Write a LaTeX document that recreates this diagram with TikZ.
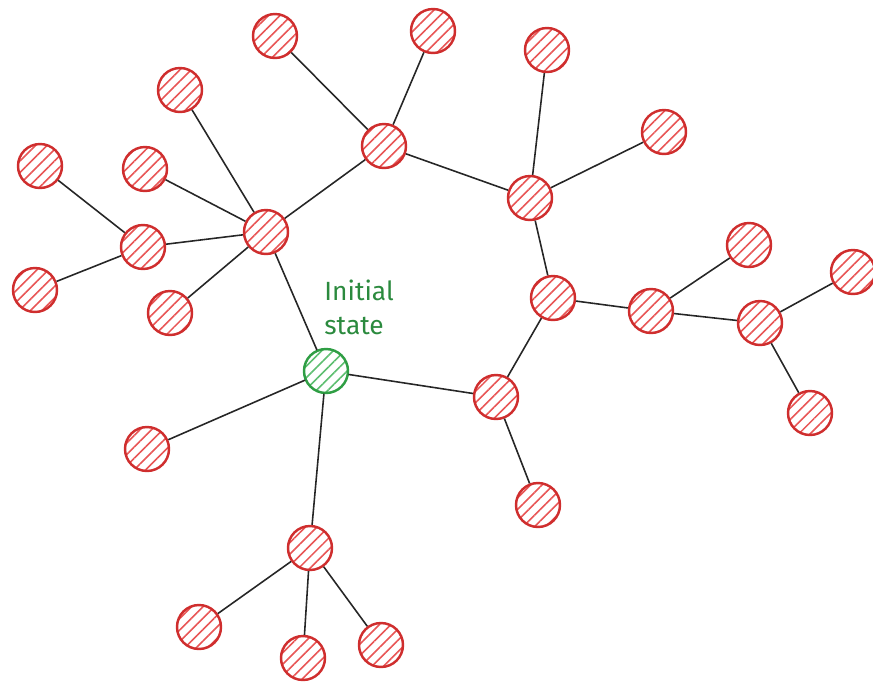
\documentclass[tikz,border=0pt]{standalone}
\usepackage{fontspec}
\newfontfamily\sketchfont{Fira Sans}
\usetikzlibrary{patterns.meta}

\definecolor{nodered}{HTML}{CF2E2E}
\definecolor{hatchred}{HTML}{E85555}
\definecolor{nodegreen}{HTML}{2F9E44}
\definecolor{hatchgreen}{HTML}{5DBE70}
\definecolor{labelgreen}{HTML}{2B8A3E}

\tikzset{
  state/.style={circle, minimum size=0.88cm, inner sep=0pt, line width=1.4pt,
    draw=nodered, pattern={Lines[angle=45, distance=4.6pt, line width=0.9pt]},
    pattern color=hatchred},
  start/.style={state, draw=nodegreen, pattern color=hatchgreen},
  link/.style={line width=0.9pt, black!85}
}

\begin{document}
\begin{tikzpicture}[x=0.02cm, y=-0.02cm]

    % Fix the page size
    \useasboundingbox (0,0) rectangle (873,684);

    % Initial state and its label
    \node[start] (init) at (326,371) {};
    \node[labelgreen, font=\sketchfont\fontsize{15}{19}\selectfont, align=left,
      anchor=north west, inner sep=0pt] (lbl) at (324,280) {Initial\\ state};

    % Upper ring of states
    \node[state] (a)  at (384,146) {};
    \node[state] (b)  at (530,198) {};
    \node[state] (c)  at (266,232) {};
    \node[state] (d)  at (553,298) {};
    \node[state] (e)  at (651,311) {};
    \node[state] (f)  at (760,323) {};
    \node[state] (g)  at (496,397) {};
    \node[state] (h)  at (310,548) {};
    \node[state] (k)  at (143,247) {};

    % Leaves
    \node[state] (a1) at (275,36) {};
    \node[state] (a2) at (433,31) {};
    \node[state] (b1) at (547,50) {};
    \node[state] (b2) at (664,132) {};
    \node[state] (c1) at (180,90) {};
    \node[state] (c2) at (145,169) {};
    \node[state] (c3) at (170,313) {};
    \node[state] (k1) at (40,166) {};
    \node[state] (k2) at (35,290) {};
    \node[state] (e1) at (749,245) {};
    \node[state] (f1) at (853,272) {};
    \node[state] (f2) at (810,413) {};
    \node[state] (g1) at (538,505) {};
    \node[state] (i1) at (147,449) {};
    \node[state] (h1) at (199,627) {};
    \node[state] (h2) at (303,658) {};
    \node[state] (h3) at (381,645) {};

    % Transitions
    \draw[link] (init) -- (c);
    \draw[link] (init) -- (g);
    \draw[link] (init) -- (h);
    \draw[link] (init) -- (i1);
    \draw[link] (c) -- (a);
    \draw[link] (a) -- (b);
    \draw[link] (b) -- (d);
    \draw[link] (d) -- (e);
    \draw[link] (e) -- (f);
    \draw[link] (d) -- (g);
    \draw[link] (a) -- (a1);
    \draw[link] (a) -- (a2);
    \draw[link] (b) -- (b1);
    \draw[link] (b) -- (b2);
    \draw[link] (c) -- (c1);
    \draw[link] (c) -- (c2);
    \draw[link] (c) -- (c3);
    \draw[link] (c) -- (k);
    \draw[link] (k) -- (k1);
    \draw[link] (k) -- (k2);
    \draw[link] (e) -- (e1);
    \draw[link] (f) -- (f1);
    \draw[link] (f) -- (f2);
    \draw[link] (g) -- (g1);
    \draw[link] (h) -- (h1);
    \draw[link] (h) -- (h2);
    \draw[link] (h) -- (h3);

\end{tikzpicture}
\end{document}
